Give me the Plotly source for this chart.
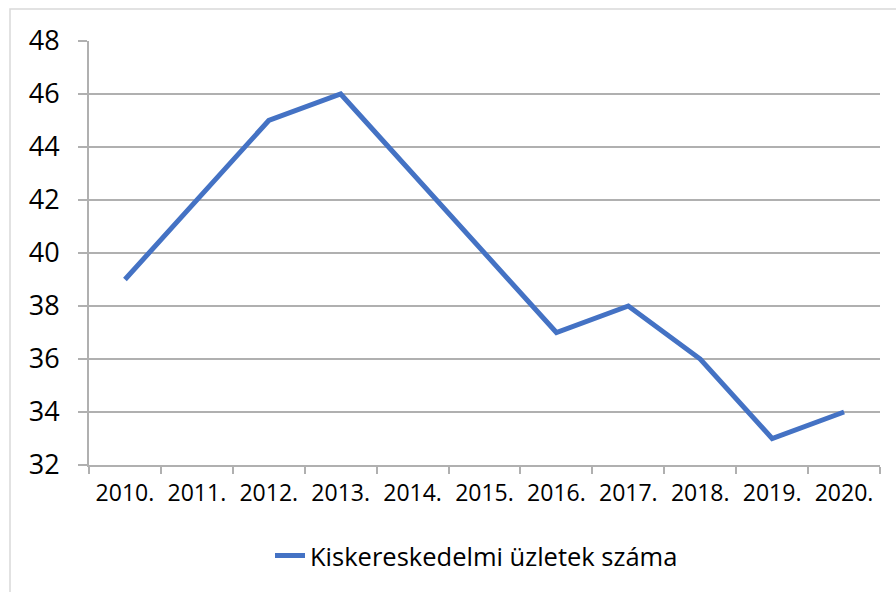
import plotly.graph_objects as go

categories = ["2010.", "2011.", "2012.", "2013.", "2014.", "2015.", "2016.", "2017.", "2018.", "2019.", "2020."]
values = [39, 42, 45, 46, 43, 40, 37, 38, 36, 33, 34]
series_name = "Kiskereskedelmi üzletek száma"
y_ticks = [32, 34, 36, 38, 40, 42, 44, 46, 48]

L, R, T, B = 89, 16, 41, 127
W, H = 896, 592
pw, ph = W - L - R, H - T - B

fig = go.Figure()
fig.add_trace(go.Scatter(
    x=categories, y=values, mode="lines", name=series_name,
    line=dict(color="#4472C4", width=5),
))

font = "Open Sans, Liberation Sans, sans-serif"
fig.update_layout(
    width=W, height=H,
    margin=dict(l=L, r=R, t=T, b=B, autoexpand=False),
    paper_bgcolor="white", plot_bgcolor="white",
    showlegend=True,
    legend=dict(orientation="h", x=(270 - L) / pw, xanchor="left",
                y=-(556 - (T + ph)) / ph, yanchor="middle",
                font=dict(family=font, size=25.5, color="#000000")),
    font=dict(family=font, color="#000000"),
)
fig.update_xaxes(
    type="category", tickson="boundaries", ticks="outside", ticklen=7, tickwidth=2,
    tickcolor="#b0b0b0", showline=True, linecolor="#b0b0b0", linewidth=2,
    showgrid=False, tickfont=dict(size=23, family=font), range=[-0.5, 10.5],
    automargin=False, ticklabelstandoff=6,
)
fig.update_yaxes(
    range=[32, 48], tickvals=y_ticks, ticks="outside", ticklen=9, tickwidth=2,
    tickcolor="#b0b0b0", showline=True, linecolor="#b0b0b0", linewidth=2,
    showgrid=True, gridcolor="#b0b0b0", gridwidth=2, zeroline=False,
    tickfont=dict(size=27, family=font), ticklabelstandoff=13, automargin=False,
)
# outer chart border (left and top visible, right/bottom off-page)
fig.add_shape(type="rect", xref="paper", yref="paper",
              x0=(10 - L) / pw, x1=(W + 5 - L) / pw,
              y0=-(H + 5 - T - ph) / ph, y1=1 + (T - 9) / ph,
              line=dict(color="#d9d9d9", width=1.5), layer="below")

fig.write_html("out.html", config={"displayModeBar": False},
               post_script="document.body.style.margin='0';document.body.style.overflow='hidden';")
